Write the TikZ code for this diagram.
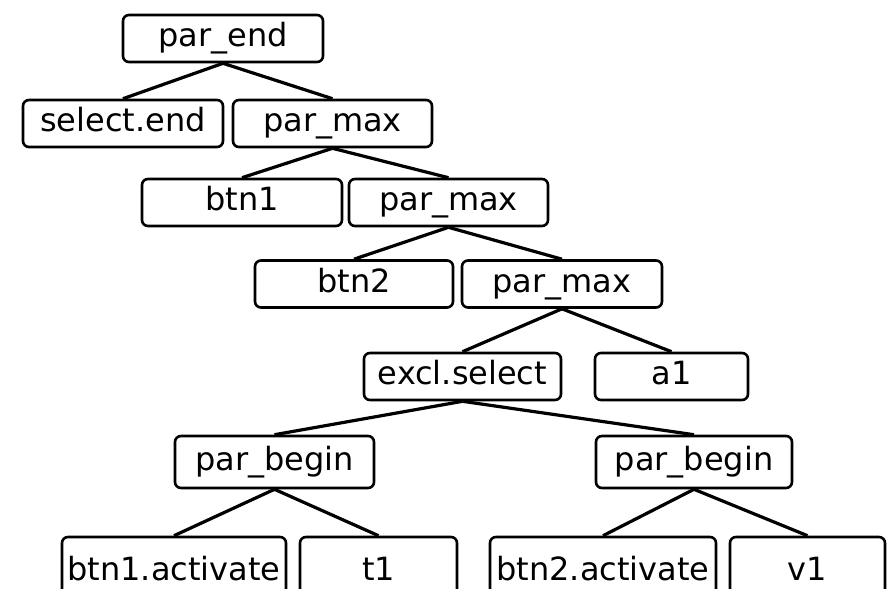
\documentclass[tikz,border=0pt]{standalone}
\usepackage{fontspec}
\setmainfont{DejaVu Sans}
\usepackage{tikz}
\usetikzlibrary{positioning}
\tikzset{
  box/.style={draw, rounded corners=6pt, line width=2.6pt, inner sep=0pt,
    minimum height=47pt, text height=23pt, text depth=7pt,
    font=\fontsize{32}{36}\selectfont},
  link/.style={line width=3.2pt}
}

\begin{document}
\begin{tikzpicture}[x=1pt,y=-1pt]
		\useasboundingbox (0,0) rectangle (889,589);
		\clip (0,0) rectangle (889,589);
		\node[box, minimum width=200pt] (00) at (223,38.5) {par\_end};
		\node[box, minimum width=200pt] (10) at (123,123.5) {select.end};
		\node[box, minimum width=199pt] (11) at (332.5,123.5) {par\_max};
		\node[box, minimum width=200pt] (20) at (242,202.5) {btn1};
		\node[box, minimum width=199pt] (21) at (448.5,202.5) {par\_max};
		\node[box, minimum width=198pt] (30) at (354,284) {btn2};
		\node[box, minimum width=200pt] (31) at (562,284) {par\_max};
		\node[box, minimum width=197pt] (40) at (462.5,376.5) {excl.select};
		\node[box, minimum width=153pt] (41) at (671.5,376.5) {a1};
		\node[box, minimum width=199pt, minimum height=52pt] (50) at (274.5,462) {par\_begin};
		\node[box, minimum width=196pt, minimum height=52pt] (51) at (694,462) {par\_begin};
		\node[box, minimum width=224pt, minimum height=70pt] (60) at (174,572) {btn1.activate};
		\node[box, minimum width=157pt, minimum height=70pt] (61) at (378.5,572) {t1};
		\node[box, minimum width=226pt, minimum height=70pt] (62) at (603,572) {btn2.activate};
		\node[box, minimum width=155pt, minimum height=70pt] (63) at (807.5,572) {v1};
		%
		\draw[link]
			%Left branches
			(00.south) edge (10.north)
			(11.south) edge (20.north)
			(21.south) edge (30.north)
			(31.south) edge (40.north)
			(40.south) edge (50.north)
			(50.south) edge (60.north)
			(51.south) edge (62.north)

			%Right branches
			(00.south) edge (11.north)
			(11.south) edge (21.north)
			(21.south) edge (31.north)
			(31.south) edge (41.north)
			(40.south) edge (51.north)
			(50.south) edge (61.north)
			(51.south) edge (63.north)
		;

	\end{tikzpicture}
\end{document}
